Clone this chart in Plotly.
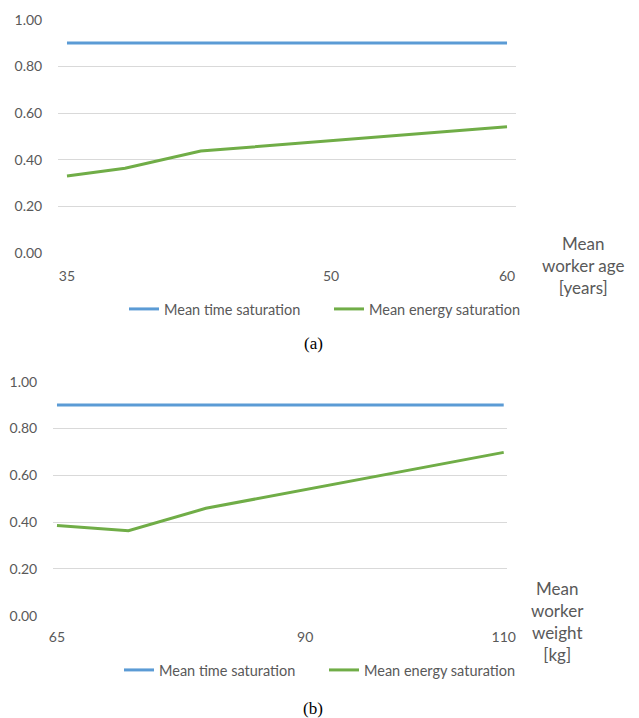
import plotly.graph_objects as go

# Panel (a): mean worker age
age_years = [35, 38.3, 42.6, 60]
time_sat_age = [0.90, 0.90, 0.90, 0.90]
energy_sat_age = [0.330, 0.363, 0.437, 0.541]
age_ticks = [35, 50, 60]

# Panel (b): mean worker weight
weight_kg = [65, 72.2, 80, 110]
time_sat_weight = [0.90, 0.90, 0.90, 0.90]
energy_sat_weight = [0.385, 0.363, 0.459, 0.698]
weight_ticks = [65, 90, 110]

y_ticks = [0, 0.2, 0.4, 0.6, 0.8, 1.0]

BLUE = "#5b9bd5"
GREEN = "#70ad47"
GRID = "#d9d9d9"
TXT = "#595959"
FONT = "Lato"

W, H = 639, 718


def py(pix):
    return 1 - pix / H


def px(pix):
    return pix / W


fig = go.Figure()

fig.add_trace(go.Scatter(x=age_years, y=time_sat_age, mode="lines", name="Mean time saturation",
                         line=dict(color=BLUE, width=3), xaxis="x", yaxis="y", legend="legend"))
fig.add_trace(go.Scatter(x=age_years, y=energy_sat_age, mode="lines", name="Mean energy saturation",
                         line=dict(color=GREEN, width=3), xaxis="x", yaxis="y", legend="legend"))
fig.add_trace(go.Scatter(x=weight_kg, y=time_sat_weight, mode="lines", name="Mean time saturation",
                         line=dict(color=BLUE, width=3), xaxis="x2", yaxis="y2", legend="legend2"))
fig.add_trace(go.Scatter(x=weight_kg, y=energy_sat_weight, mode="lines", name="Mean energy saturation",
                         line=dict(color=GREEN, width=3), xaxis="x2", yaxis="y2", legend="legend2"))

xcommon = dict(showgrid=False, zeroline=False, showline=False, ticks="outside", automargin=False,
               tickcolor="rgba(0,0,0,0)", tickfont=dict(family=FONT, size=14, color=TXT))
ycommon = dict(range=[0, 1], tickvals=y_ticks, tickformat=".2f", showgrid=True, gridcolor=GRID,
               gridwidth=1, zeroline=False, showline=False, ticks="outside", ticklen=12,
               automargin=False, tickcolor="rgba(0,0,0,0)",
               tickfont=dict(family=FONT, size=14, color=TXT))

legend_common = dict(orientation="h", xanchor="center", yanchor="middle", bgcolor="rgba(0,0,0,0)",
                     font=dict(family=FONT, size=14.5, color=TXT), itemwidth=30,
                     entrywidth=160, entrywidthmode="pixels")

fig.update_layout(
    width=W, height=H,
    margin=dict(l=0, r=0, t=0, b=0, autoexpand=False),
    paper_bgcolor="white", plot_bgcolor="white",
    xaxis=dict(domain=[px(58), px(516)], range=[34.49, 60.51], tickvals=age_ticks, ticklen=10,
               anchor="y", **xcommon),
    yaxis=dict(domain=[py(253), py(19.7)], anchor="x", **ycommon),
    xaxis2=dict(domain=[px(53), px(507)], range=[64.6, 110.33], tickvals=weight_ticks, ticklen=8,
                anchor="y2", **xcommon),
    yaxis2=dict(domain=[py(615.7), py(381.7)], anchor="x2", **ycommon),
    legend=dict(x=px(329), y=py(309), **legend_common),
    legend2=dict(x=px(324), y=py(670), **legend_common),
    annotations=[
        dict(text="Mean<br>worker age<br>[years]", x=px(583), y=py(266), xref="paper", yref="paper",
             showarrow=False, xanchor="center", yanchor="middle",
             font=dict(family=FONT, size=17, color=TXT)),
        dict(text="Mean<br>worker<br>weight<br>[kg]", x=px(557), y=py(621), xref="paper", yref="paper",
             showarrow=False, xanchor="center", yanchor="middle",
             font=dict(family=FONT, size=17, color=TXT)),
        dict(text="(a)", x=px(313), y=py(343), xref="paper", yref="paper", showarrow=False,
             xanchor="center", yanchor="middle",
             font=dict(family="Liberation Serif", size=17, color="black")),
        dict(text="(b)", x=px(313), y=py(708), xref="paper", yref="paper", showarrow=False,
             xanchor="center", yanchor="middle",
             font=dict(family="Liberation Serif", size=17, color="black")),
    ],
)

fig.write_html("out.html")
